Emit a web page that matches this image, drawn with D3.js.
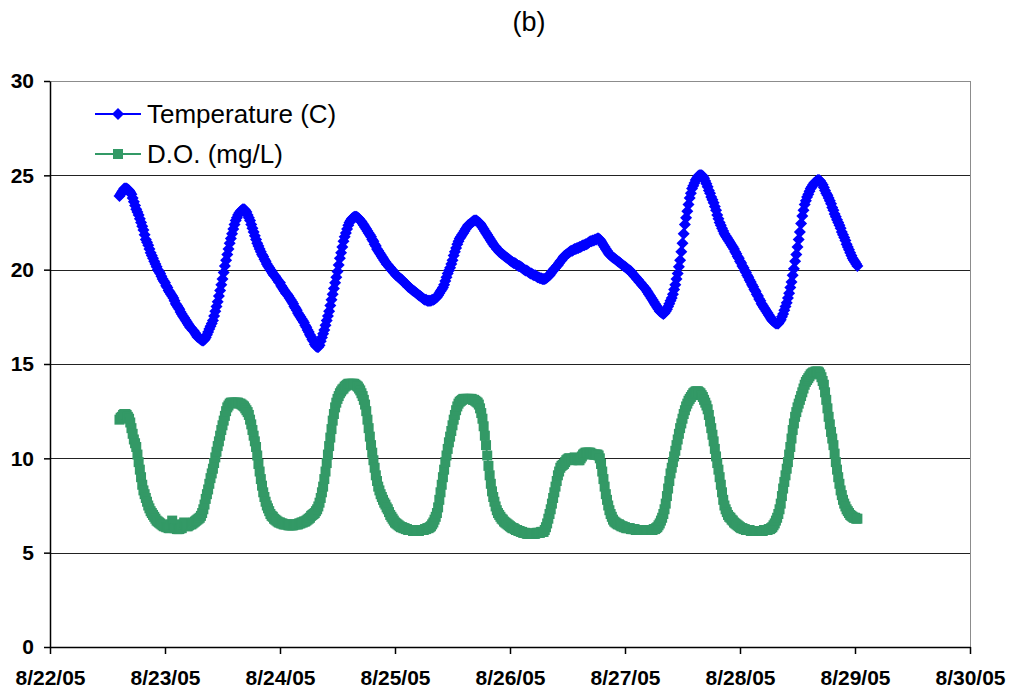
<!DOCTYPE html>
<html>
<head>
<meta charset="utf-8">
<script src="https://cdn.jsdelivr.net/npm/d3@7"></script>
<style>
  html, body { margin: 0; padding: 0; background: #fff; }
  svg { display: block; font-family: Arial, "Liberation Sans", sans-serif; }
</style>
</head>
<body>
<svg id="chart" width="1011" height="692"></svg>
<script>
// Logger readings every 15 minutes, first reading 8/22/05 14:30
const startTime = Date.UTC(2005, 7, 22, 14, 30);
const stepMinutes = 15;

// Water temperature (C), one row per 6 hours
const temperature = [
  23.9,24.0,24.1,24.2,24.3,24.3,24.3,24.25,24.2,24.1,24.0,23.8,23.6,23.4,23.2,23.05,22.9,22.7,22.5,22.3,22.1,21.85,21.6,21.45,
  21.3,21.1,20.9,20.75,20.6,20.45,20.3,20.15,20.0,19.9,19.8,19.65,19.5,19.4,19.3,19.15,19.05,18.9,18.8,18.7,18.6,18.5,18.35,18.2,
  18.1,18.0,17.9,17.75,17.65,17.55,17.45,17.35,17.25,17.15,17.05,16.95,16.9,16.8,16.75,16.65,16.55,16.45,16.4,16.35,16.3,16.25,16.25,16.3,
  16.4,16.55,16.7,16.85,17.0,17.15,17.3,17.55,17.8,18.05,18.3,18.6,18.9,19.2,19.5,19.85,20.2,20.5,20.8,21.1,21.4,21.65,21.9,22.15,
  22.4,22.6,22.75,22.9,23.0,23.1,23.15,23.2,23.2,23.15,23.05,22.9,22.75,22.6,22.4,22.2,22.0,21.8,21.6,21.4,21.25,21.1,20.95,20.8,
  20.7,20.55,20.45,20.3,20.2,20.1,20.0,19.9,19.8,19.7,19.65,19.55,19.45,19.35,19.3,19.15,19.05,18.95,18.85,18.75,18.7,18.6,18.5,18.4,
  18.3,18.2,18.05,17.95,17.85,17.7,17.6,17.5,17.4,17.3,17.2,17.05,16.95,16.8,16.7,16.55,16.45,16.3,16.2,16.05,15.95,15.9,15.9,16.0,
  16.2,16.4,16.6,16.8,17.05,17.3,17.55,17.8,18.1,18.4,18.7,19.0,19.3,19.6,19.9,20.25,20.6,20.9,21.2,21.5,21.75,21.95,22.15,22.35,
  22.5,22.6,22.7,22.75,22.8,22.8,22.8,22.75,22.7,22.6,22.55,22.45,22.35,22.25,22.15,22.05,21.95,21.85,21.75,21.6,21.5,21.35,21.25,21.1,
  21.0,20.9,20.8,20.7,20.6,20.5,20.4,20.3,20.25,20.15,20.1,20.0,19.95,19.85,19.8,19.7,19.65,19.6,19.55,19.5,19.45,19.35,19.3,19.25,
  19.2,19.1,19.05,19.0,18.95,18.9,18.85,18.8,18.75,18.7,18.65,18.6,18.55,18.5,18.45,18.4,18.4,18.35,18.35,18.35,18.35,18.4,18.4,18.45,
  18.5,18.55,18.65,18.75,18.85,18.95,19.05,19.2,19.4,19.6,19.8,19.95,20.1,20.3,20.5,20.75,20.95,21.15,21.35,21.5,21.65,21.75,21.85,21.95,
  22.05,22.15,22.25,22.35,22.4,22.45,22.5,22.55,22.6,22.6,22.6,22.55,22.5,22.45,22.35,22.25,22.15,22.05,21.95,21.85,21.75,21.65,21.55,21.45,
  21.35,21.25,21.2,21.1,21.05,20.95,20.9,20.85,20.8,20.75,20.7,20.65,20.6,20.55,20.5,20.45,20.4,20.35,20.35,20.3,20.25,20.2,20.2,20.15,
  20.1,20.05,20.0,19.95,19.95,19.9,19.85,19.8,19.8,19.75,19.7,19.7,19.65,19.6,19.6,19.55,19.55,19.5,19.5,19.5,19.55,19.6,19.65,19.7,
  19.8,19.9,19.95,20.05,20.1,20.2,20.25,20.35,20.45,20.5,20.6,20.7,20.75,20.8,20.85,20.9,20.95,21.0,21.0,21.05,21.1,21.1,21.15,21.15,
  21.2,21.2,21.25,21.3,21.3,21.35,21.35,21.4,21.45,21.5,21.5,21.55,21.55,21.6,21.6,21.65,21.65,21.6,21.5,21.4,21.3,21.2,21.1,21.0,
  20.9,20.8,20.75,20.7,20.65,20.6,20.55,20.5,20.45,20.4,20.35,20.3,20.25,20.2,20.15,20.1,20.05,20.0,19.95,19.9,19.8,19.75,19.65,19.6,
  19.5,19.45,19.35,19.3,19.2,19.15,19.05,19.0,18.9,18.8,18.7,18.6,18.5,18.4,18.3,18.2,18.1,18.0,17.9,17.8,17.75,17.7,17.65,17.7,
  17.8,17.9,18.05,18.2,18.35,18.5,18.7,18.95,19.2,19.5,19.8,20.15,20.5,20.95,21.4,21.9,22.4,22.75,23.1,23.45,23.8,24.05,24.3,24.45,
  24.6,24.75,24.85,24.95,25.0,25.0,25.0,24.95,24.85,24.7,24.55,24.4,24.2,24.05,23.85,23.7,23.55,23.35,23.15,22.9,22.7,22.5,22.35,22.2,
  22.05,21.9,21.8,21.7,21.6,21.5,21.4,21.3,21.2,21.1,20.95,20.85,20.7,20.6,20.45,20.35,20.2,20.1,19.95,19.85,19.7,19.6,19.45,19.35,
  19.2,19.1,18.95,18.85,18.7,18.6,18.45,18.35,18.2,18.1,18.0,17.9,17.8,17.7,17.6,17.5,17.4,17.3,17.25,17.2,17.15,17.15,17.15,17.25,
  17.35,17.5,17.65,17.85,18.05,18.25,18.5,18.75,19.05,19.35,19.7,20.05,20.45,20.8,21.2,21.6,22.0,22.45,22.85,23.15,23.45,23.65,23.85,24.0,
  24.15,24.3,24.4,24.5,24.6,24.65,24.7,24.75,24.75,24.7,24.6,24.5,24.35,24.2,24.05,23.95,23.8,23.65,23.5,23.3,23.15,22.95,22.8,22.65,
  22.5,22.35,22.2,22.0,21.85,21.7,21.55,21.35,21.2,21.05,20.9,20.75,20.6,20.5,20.4,20.3,20.2
];

// Dissolved oxygen (mg/L), one row per 6 hours
const dissolvedOxygen = [
  12.05,12.15,12.2,12.3,12.35,12.35,12.3,12.2,12.1,11.9,11.6,11.3,11.0,10.8,10.6,10.2,9.8,9.4,9.0,8.6,8.3,8.1,7.9,7.7,
  7.5,7.35,7.2,7.1,7.0,6.9,6.8,6.7,6.65,6.6,6.55,6.5,6.45,6.4,6.4,6.35,6.35,6.3,6.3,6.5,6.7,6.5,6.3,6.3,
  6.25,6.25,6.25,6.3,6.3,6.5,6.6,6.5,6.4,6.4,6.45,6.5,6.5,6.55,6.6,6.65,6.7,6.75,6.8,6.85,6.95,7.1,7.3,7.55,
  7.85,8.1,8.35,8.65,8.95,9.2,9.45,9.75,10.05,10.35,10.65,10.9,11.2,11.5,11.75,12.0,12.25,12.5,12.7,12.8,12.9,12.95,12.95,12.95,
  12.95,12.95,12.95,12.95,12.9,12.9,12.85,12.8,12.75,12.65,12.55,12.45,12.3,12.05,11.8,11.5,11.2,10.9,10.6,10.15,9.7,9.3,8.9,8.55,
  8.2,7.95,7.7,7.5,7.35,7.2,7.05,6.95,6.9,6.8,6.75,6.7,6.65,6.6,6.6,6.55,6.55,6.5,6.5,6.5,6.5,6.45,6.45,6.45,
  6.45,6.45,6.5,6.5,6.5,6.5,6.55,6.55,6.6,6.6,6.65,6.65,6.7,6.75,6.8,6.85,6.95,7.0,7.05,7.1,7.2,7.3,7.45,7.65,
  7.9,8.2,8.5,8.9,9.3,9.75,10.2,10.65,11.1,11.55,12.0,12.35,12.7,12.95,13.15,13.3,13.45,13.55,13.65,13.7,13.8,13.85,13.9,13.95,
  13.95,13.95,13.95,13.95,13.95,13.9,13.85,13.8,13.7,13.6,13.45,13.3,13.1,12.85,12.5,12.05,11.6,11.15,10.7,10.3,9.9,9.5,9.1,8.8,
  8.5,8.3,8.1,7.95,7.8,7.65,7.55,7.4,7.3,7.15,7.0,6.9,6.8,6.7,6.6,6.55,6.5,6.45,6.4,6.35,6.35,6.3,6.3,6.25,
  6.25,6.2,6.2,6.2,6.2,6.15,6.15,6.15,6.15,6.15,6.15,6.2,6.2,6.2,6.2,6.25,6.25,6.3,6.3,6.35,6.4,6.5,6.6,6.75,
  6.9,7.1,7.4,7.8,8.2,8.6,9.0,9.4,9.8,10.15,10.5,10.85,11.15,11.45,11.75,12.05,12.3,12.55,12.75,12.9,13.0,13.05,13.1,13.15,
  13.15,13.15,13.15,13.15,13.15,13.15,13.15,13.1,13.1,13.05,13.0,12.95,12.85,12.65,12.4,12.1,11.7,11.2,10.7,10.15,9.6,9.1,8.65,8.25,
  7.95,7.7,7.45,7.25,7.1,7.0,6.9,6.8,6.75,6.65,6.6,6.55,6.5,6.45,6.4,6.35,6.3,6.3,6.25,6.2,6.2,6.15,6.15,6.1,
  6.1,6.05,6.05,6.05,6.0,6.0,6.0,6.0,6.0,6.0,6.0,6.0,6.05,6.05,6.05,6.05,6.1,6.1,6.1,6.2,6.35,6.55,6.8,7.05,
  7.3,7.6,7.9,8.2,8.5,8.8,9.1,9.3,9.5,9.6,9.65,9.7,9.8,9.9,9.95,10.0,10.0,9.95,9.9,10.0,10.05,10.0,9.95,9.9,
  9.9,10.0,10.1,10.2,10.25,10.3,10.3,10.3,10.3,10.3,10.25,10.2,10.2,10.2,10.2,10.2,10.15,10.0,9.7,9.3,8.9,8.5,8.1,7.8,
  7.5,7.25,7.05,6.9,6.75,6.65,6.6,6.55,6.5,6.5,6.45,6.4,6.4,6.35,6.35,6.3,6.3,6.3,6.3,6.25,6.25,6.25,6.25,6.2,
  6.2,6.2,6.2,6.2,6.2,6.2,6.2,6.2,6.2,6.2,6.2,6.2,6.2,6.2,6.25,6.25,6.3,6.35,6.45,6.55,6.7,6.85,7.05,7.3,
  7.6,8.0,8.4,8.8,9.2,9.5,9.8,10.1,10.4,10.7,11.0,11.3,11.6,11.85,12.1,12.35,12.55,12.75,12.9,13.05,13.15,13.25,13.35,13.45,
  13.5,13.55,13.55,13.55,13.5,13.45,13.35,13.25,13.1,12.95,12.8,12.6,12.3,11.95,11.6,11.25,10.9,10.5,10.1,9.75,9.4,9.0,8.6,8.2,
  7.8,7.5,7.3,7.15,7.0,6.9,6.85,6.75,6.7,6.6,6.55,6.5,6.45,6.4,6.35,6.3,6.3,6.25,6.25,6.2,6.2,6.2,6.2,6.15,
  6.15,6.15,6.15,6.15,6.15,6.15,6.15,6.15,6.15,6.15,6.2,6.2,6.2,6.2,6.25,6.25,6.3,6.35,6.45,6.55,6.7,6.85,7.05,7.3,
  7.6,8.0,8.4,8.75,9.1,9.45,9.8,10.2,10.6,11.05,11.5,11.85,12.2,12.45,12.7,12.9,13.1,13.3,13.5,13.7,13.9,14.05,14.15,14.25,
  14.35,14.45,14.5,14.55,14.55,14.6,14.6,14.6,14.55,14.45,14.3,14.1,13.9,13.5,13.1,12.65,12.2,11.8,11.4,11.05,10.7,10.25,9.8,9.4,
  9.0,8.65,8.3,8.05,7.8,7.6,7.45,7.3,7.2,7.1,7.0,6.95,6.9,6.85,6.85,6.8,6.8
];

const yTicks = [0, 5, 10, 15, 20, 25, 30];
const xDomain = [Date.UTC(2005, 7, 22), Date.UTC(2005, 7, 30)];
const titleText = "(b)";
const seriesNames = ["Temperature (C)", "D.O. (mg/L)"];
const seriesColors = ["#0000FF", "#339966"];

const svg = d3.select("#chart");
const plotLeft = 50, plotRight = 970, plotTop = 81, plotBottom = 647;

const x = d3.scaleUtc().domain(xDomain).range([plotLeft, plotRight]);
const y = d3.scaleLinear().domain([0, 30]).range([plotBottom, plotTop]);
const crisp = v => Math.round(v) + 0.5;

const timeAt = i => new Date(startTime + i * stepMinutes * 60000);

// Title
svg.append("text")
  .attr("x", 529).attr("y", 31)
  .attr("text-anchor", "middle")
  .attr("font-size", 27)
  .text(titleText);

// Horizontal gridlines
svg.append("g").selectAll("line")
  .data(yTicks.filter(v => v > 0 && v < 30))
  .join("line")
  .attr("x1", plotLeft).attr("x2", plotRight)
  .attr("y1", d => crisp(y(d))).attr("y2", d => crisp(y(d)))
  .attr("stroke", "#222").attr("stroke-width", 1)
  .attr("shape-rendering", "crispEdges");

// Plot frame (top and right)
svg.append("path")
  .attr("d", `M${plotLeft},${crisp(y(30))}H${crisp(plotRight)}V${plotBottom + 7}`)
  .attr("fill", "none").attr("stroke", "#8c8c8c").attr("stroke-width", 1.5)
  .attr("shape-rendering", "crispEdges");

// Axes
const yAxis = svg.append("g")
  .attr("transform", `translate(${plotLeft},0)`)
  .call(d3.axisLeft(y).tickValues(yTicks).tickSize(6).tickSizeOuter(0).tickPadding(10));
yAxis.selectAll("text")
  .attr("font-size", 21).attr("font-weight", "bold").attr("fill", "#000")
  .attr("font-family", "Arial, 'Liberation Sans', sans-serif");

const xAxis = svg.append("g")
  .attr("transform", `translate(0,${plotBottom})`)
  .call(d3.axisBottom(x).ticks(d3.utcDay.every(1))
    .tickFormat(d3.utcFormat("%-m/%d/%y")).tickSize(7).tickSizeOuter(0).tickPadding(16));
xAxis.selectAll("text")
  .attr("font-size", 21).attr("font-weight", "bold").attr("fill", "#000")
  .attr("font-family", "Arial, 'Liberation Sans', sans-serif");
svg.selectAll(".domain, .tick line").attr("stroke", "#000").attr("stroke-width", 1.5);

// Marker shapes
const diamond = r => `M0,${-r}L${r},0L0,${r}L${-r},0Z`;
const square = s => `M${-s / 2},${-s / 2}h${s}v${s}h${-s}Z`;
const markerPaths = [diamond(6), square(10)];

const line = d3.line().x(d => x(d.t)).y(d => y(d.v));

[temperature, dissolvedOxygen].forEach((values, k) => {
  const pts = values.map((v, i) => ({ t: timeAt(i), v }));
  const g = svg.append("g");
  g.append("path")
    .attr("d", line(pts))
    .attr("fill", "none")
    .attr("stroke", seriesColors[k])
    .attr("stroke-width", 2);
  g.selectAll("path.m")
    .data(pts)
    .join("path")
    .attr("class", "m")
    .attr("transform", d => `translate(${x(d.t)},${y(d.v)})`)
    .attr("d", markerPaths[k])
    .attr("fill", seriesColors[k]);
});

// Legend
const legend = svg.append("g");
seriesNames.forEach((name, k) => {
  const ly = 114 + k * 40;
  legend.append("line")
    .attr("x1", 95).attr("x2", 141).attr("y1", ly).attr("y2", ly)
    .attr("stroke", seriesColors[k]).attr("stroke-width", 2);
  legend.append("path")
    .attr("transform", `translate(118,${ly})`)
    .attr("d", markerPaths[k])
    .attr("fill", seriesColors[k]);
  legend.append("text")
    .attr("x", 147).attr("y", ly + 9)
    .attr("font-size", 26)
    .text(name);
});
</script>
</body>
</html>
